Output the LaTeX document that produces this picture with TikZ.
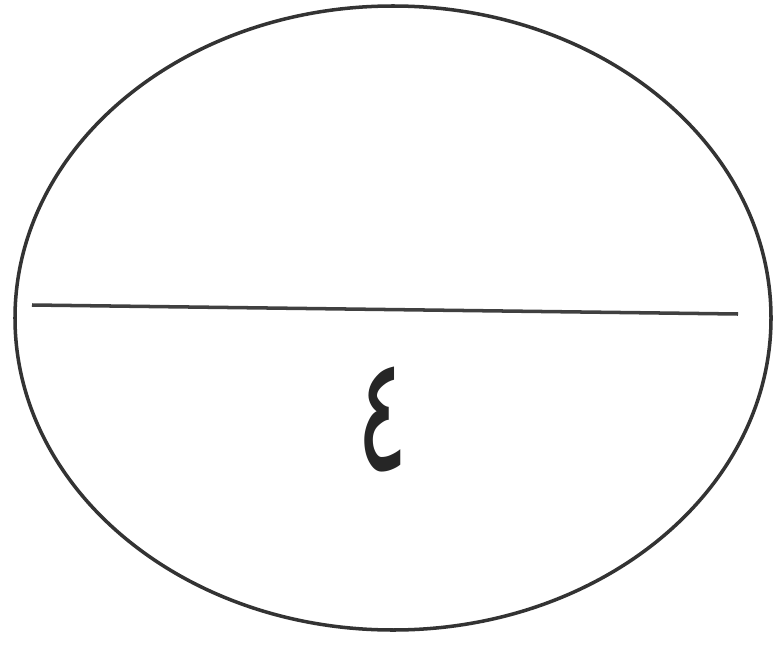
\documentclass[tikz,border=0pt]{standalone}
\usepackage{fontspec}
\usepackage{tikz}
\newfontfamily\arabicfont[Script=Arabic]{DejaVu Sans}
\TeXXeTstate=1

\begin{document}
\begin{tikzpicture}[x=0.02cm, y=-0.02cm]
			\useasboundingbox (0, 0) rectangle (777, 652);
			
			% Outline
			\draw[line width=2pt, black!80] (393, 318) ellipse [x radius=378, y radius=312];
			
			% Dividing line
			\coordinate (left) at (32, 305);
			\coordinate (right) at (738, 314);
			\draw[line width=2pt, black!75] (left) -- (right);
			
			% Label
			\node[xscale=0.6, black!85] (four) at (383, 420) {\fontsize{92}{92}\selectfont\arabicfont\beginR ٤\endR};
		\end{tikzpicture}
\end{document}
